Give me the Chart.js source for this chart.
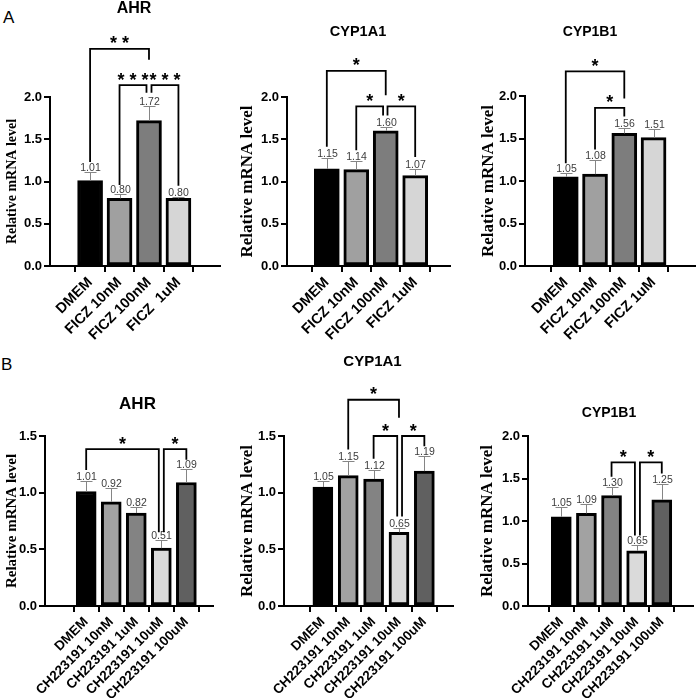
<!DOCTYPE html>
<html>
<head>
<meta charset="utf-8">
<title>AHR / CYP1A1 / CYP1B1 mRNA</title>
<script src="https://cdn.jsdelivr.net/npm/chart.js@4.4.1/dist/chart.umd.min.js"></script>
<style>
  html, body { margin: 0; padding: 0; background: #fff; }
  #page { position: relative; width: 700px; height: 698px; overflow: hidden; }
  #page canvas { position: absolute; }
  .letter { position: absolute; font: 17px "Liberation Sans", Arial, sans-serif; line-height: 17px; color: #000; }
</style>
</head>
<body>
<div id="page">
  <div class="letter" style="left:3px; top:9px;">A</div>
  <div class="letter" style="left:1px; top:356px;">B</div>
  <canvas id="a-ahr" width="230" height="345" style="left:0; top:0;"></canvas>
  <canvas id="a-cyp1a1" width="230" height="345" style="left:230px; top:0;"></canvas>
  <canvas id="a-cyp1b1" width="240" height="345" style="left:460px; top:0;"></canvas>
  <canvas id="b-ahr" width="230" height="353" style="left:0; top:345px;"></canvas>
  <canvas id="b-cyp1a1" width="230" height="353" style="left:230px; top:345px;"></canvas>
  <canvas id="b-cyp1b1" width="240" height="353" style="left:460px; top:345px;"></canvas>
</div>
<script>
// Data (relative mRNA level, mean and upper error)

const A_CATS = ['DMEM', 'FICZ 10nM', 'FICZ 100nM', 'FICZ 1uM'];
const A_AHR_CATS = ['DMEM', 'FICZ 10nM', 'FICZ 100nM', 'FICZ  1uM'];
const B_CATS = ['DMEM', 'CH223191 10nM', 'CH223191 1uM', 'CH223191 10uM', 'CH223191 100uM'];

const A_AHR_MEAN = [1.01, 0.80, 1.72, 0.80];
const A_AHR_ERR = [0.10, 0.05, 0.17, 0.02];
const A_CYP1A1_MEAN = [1.15, 1.14, 1.60, 1.07];
const A_CYP1A1_ERR = [0.13, 0.10, 0.05, 0.08];
const A_CYP1B1_MEAN = [1.05, 1.08, 1.56, 1.51];
const A_CYP1B1_ERR = [0.05, 0.17, 0.06, 0.10];

const B_AHR_MEAN = [1.01, 0.92, 0.82, 0.51, 1.09];
const B_AHR_ERR = [0.09, 0.12, 0.05, 0.07, 0.12];
const B_CYP1A1_MEAN = [1.05, 1.15, 1.12, 0.65, 1.19];
const B_CYP1A1_ERR = [0.05, 0.13, 0.08, 0.04, 0.13];
const B_CYP1B1_MEAN = [1.05, 1.09, 1.30, 0.65, 1.25];
const B_CYP1B1_ERR = [0.11, 0.11, 0.10, 0.07, 0.19];

// significance brackets: [from bar, to bar, top level, from-leg end, to-leg end, stars]
const A_AHR_SIG = [
    [0, 2, 2.57, 1.23, 2.44, '**'],
    [1, 1.915, 2.14, 0.96, 2.05, '***'],
    [2.085, 3, 2.14, 2.05, 0.95, '***']
];
const A_CYP1A1_SIG = [
    [0, 2, 2.31, 1.41, 2.02, '*'],
    [1, 1.91, 1.89, 1.37, 1.78, '*'],
    [2.06, 3, 1.89, 1.78, 1.29, '*']
];
const A_CYP1B1_SIG = [
    [0, 2, 2.29, 1.21, 1.97, '*'],
    [1, 2, 1.86, 1.37, 1.76, '*']
];
const B_AHR_SIG = [
    [0, 2.9, 1.385, 1.20, 0.65, '*'],
    [3.1, 4, 1.385, 0.65, 1.29, '*']
];
const B_CYP1A1_SIG = [
    [1, 3, 1.82, 1.38, 1.66, '*'],
    [2, 2.93, 1.50, 1.30, 0.79, '*'],
    [3.12, 4, 1.50, 0.79, 1.41, '*']
];
const B_CYP1B1_SIG = [
    [2, 2.93, 1.69, 1.52, 0.83, '*'],
    [3.13, 4, 1.69, 0.83, 1.56, '*']
];

// bar fills
const A_COLORS = ['#000000', '#a0a0a0', '#7d7d7d', '#d6d6d6'];
const B_COLORS = ['#000000', '#a2a2a2', '#838383', '#dadada', '#606060'];

const SANS = '"Liberation Sans", Arial, sans-serif';
const SERIF = '"Liberation Serif", "Times New Roman", serif';

// error bars, value labels, brackets and panel title
function decoPlugin(p) {
    return {
        id: 'deco',
        afterDatasetsDraw(chart) {
            const ctx = chart.ctx;
            const xs = chart.scales.x;
            const ys = chart.scales.y;
            const bars = chart.getDatasetMeta(0).data;
            ctx.save();

            bars.forEach((bar, i) => {
                const x = Math.round(bar.x) + 0.5;
                const yCap = Math.round(ys.getPixelForValue(p.mean[i] + p.err[i])) + 0.5;
                ctx.strokeStyle = '#858585';
                ctx.lineWidth = 1;
                ctx.beginPath();
                ctx.moveTo(x, bar.y);
                ctx.lineTo(x, yCap);
                ctx.moveTo(x - 6, yCap);
                ctx.lineTo(x + 6, yCap);
                ctx.stroke();

                ctx.fillStyle = '#3c3c3c';
                ctx.font = '10.5px ' + SANS;
                ctx.textAlign = 'center';
                ctx.textBaseline = 'alphabetic';
                ctx.fillText(p.mean[i].toFixed(2), x, yCap - 1.5);
            });

            ctx.strokeStyle = '#000';
            ctx.lineWidth = 1.8;
            ctx.lineJoin = 'miter';
            p.sig.forEach(s => {
                const [a, b, top, aEnd, bEnd, stars] = s;
                const x1 = xs.getPixelForValue(a);
                const x2 = xs.getPixelForValue(b);
                const yt = ys.getPixelForValue(top);
                ctx.beginPath();
                ctx.moveTo(x1, ys.getPixelForValue(aEnd));
                ctx.lineTo(x1, yt);
                ctx.lineTo(x2, yt);
                ctx.lineTo(x2, ys.getPixelForValue(bEnd));
                ctx.stroke();

                // stars spaced evenly above the bracket
                ctx.fillStyle = '#000';
                ctx.font = 'bold 18px ' + SANS;
                ctx.textAlign = 'center';
                ctx.textBaseline = 'alphabetic';
                const mid = (x1 + x2) / 2;
                const n = stars.length;
                for (let k = 0; k < n; k++) {
                    ctx.fillText('*', mid + (k - (n - 1) / 2) * 12, yt + 0.5);
                }
            });

            ctx.fillStyle = '#000';
            ctx.font = 'bold ' + p.titleSize + 'px ' + SANS;
            ctx.textAlign = 'center';
            ctx.textBaseline = 'middle';
            ctx.fillText(p.title, p.titleX, p.titleY);

            ctx.restore();
        }
    };
}

function makeChart(p) {
    const canvas = document.getElementById(p.id);
    return new Chart(canvas, {
        type: 'bar',
        data: {
            datasets: [{
                data: p.mean.map((v, i) => ({ x: i, y: v })),
                backgroundColor: p.colors,
                borderColor: '#000',
                borderWidth: 3,
                borderSkipped: false,
                barThickness: p.barW
            }]
        },
        options: {
            responsive: false,
            animation: false,
            layout: { padding: { top: p.padTop, right: p.padRight, left: 0, bottom: 0 } },
            plugins: {
                legend: { display: false },
                tooltip: { enabled: false }
            },
            scales: {
                x: {
                    type: 'linear',
                    min: p.xMin,
                    max: p.xMax,
                    afterBuildTicks: s => { s.ticks = p.cats.map((c, i) => ({ value: i })); },
                    afterFit: s => { s.height = p.xH; },
                    grid: { drawOnChartArea: false, drawTicks: true, tickLength: 6, color: '#000', lineWidth: 2 },
                    border: { display: true, color: '#000', width: 2 },
                    ticks: {
                        autoSkip: false,
                        minRotation: 45,
                        maxRotation: 45,
                        padding: 2,
                        color: '#000',
                        font: { family: SANS, size: p.xFont, weight: 'bold' },
                        callback: (v, i) => p.cats[i]
                    }
                },
                y: {
                    min: 0,
                    max: p.yMax,
                    afterFit: s => { s.width = p.yW; },
                    grid: { drawOnChartArea: false, drawTicks: true, tickLength: 6, color: '#000', lineWidth: 2 },
                    border: { display: true, color: '#000', width: 2 },
                    ticks: {
                        stepSize: 0.5,
                        padding: 2,
                        color: '#000',
                        font: { family: SANS, size: 13, weight: 'bold' },
                        callback: v => v.toFixed(1)
                    },
                    title: {
                        display: true,
                        text: 'Relative mRNA level',
                        color: '#000',
                        font: { family: SERIF, size: p.ytSize, weight: 'bold' },
                        padding: { top: p.ytPad, bottom: 0 }
                    }
                }
            }
        },
        plugins: [decoPlugin(p)]
    });
}

const panels = [
    { id: 'a-ahr', cats: A_AHR_CATS, mean: A_AHR_MEAN, err: A_AHR_ERR, sig: A_AHR_SIG, colors: A_COLORS,
      yMax: 2.0, xMin: -0.64, xMax: 3.69, yW: 50, padRight: 10, padTop: 97, xH: 79, barW: 25, xFont: 14.5,
      ytSize: 14, ytPad: 3.6, title: 'AHR', titleSize: 16, titleX: 134, titleY: 9 },
    { id: 'a-cyp1a1', cats: A_CATS, mean: A_CYP1A1_MEAN, err: A_CYP1A1_ERR, sig: A_CYP1A1_SIG, colors: A_COLORS,
      yMax: 2.0, xMin: -0.66, xMax: 3.49, yW: 57, padRight: 10, padTop: 97, xH: 79, barW: 25, xFont: 14.5,
      ytSize: 17, ytPad: 7.8, title: 'CYP1A1', titleSize: 14.5, titleX: 128, titleY: 32 },
    { id: 'a-cyp1b1', cats: A_CATS, mean: A_CYP1B1_MEAN, err: A_CYP1B1_ERR, sig: A_CYP1B1_SIG, colors: A_COLORS,
      yMax: 2.0, xMin: -0.667, xMax: 3.69, yW: 65, padRight: 5, padTop: 96, xH: 79, barW: 25, xFont: 14.5,
      ytSize: 17, ytPad: 18.8, title: 'CYP1B1', titleSize: 14, titleX: 130, titleY: 32 },
    { id: 'b-ahr', cats: B_CATS, mean: B_AHR_MEAN, err: B_AHR_ERR, sig: B_AHR_SIG, colors: B_COLORS,
      yMax: 1.5, xMin: -0.974, xMax: 4.393, yW: 45, padRight: 17, padTop: 91, xH: 92, barW: 20, xFont: 13.5,
      ytSize: 15, ytPad: 3.5, title: 'AHR', titleSize: 17, titleX: 137.5, titleY: 59 },
    { id: 'b-cyp1a1', cats: B_CATS, mean: B_CYP1A1_MEAN, err: B_CYP1A1_ERR, sig: B_CYP1A1_SIG, colors: B_COLORS,
      yMax: 1.5, xMin: -0.866, xMax: 4.463, yW: 54, padRight: 7, padTop: 91, xH: 92, barW: 20, xFont: 13.5,
      ytSize: 17, ytPad: 7.8, title: 'CYP1A1', titleSize: 15, titleX: 142.5, titleY: 17 },
    { id: 'b-cyp1b1', cats: B_CATS, mean: B_CYP1B1_MEAN, err: B_CYP1B1_ERR, sig: B_CYP1B1_SIG, colors: B_COLORS,
      yMax: 2.0, xMin: -0.669, xMax: 4.586, yW: 68, padRight: 7, padTop: 91, xH: 92, barW: 20, xFont: 13.5,
      ytSize: 17, ytPad: 17.8, title: 'CYP1B1', titleSize: 14, titleX: 149, titleY: 68 }
];

panels.forEach(makeChart);
</script>
</body>
</html>
